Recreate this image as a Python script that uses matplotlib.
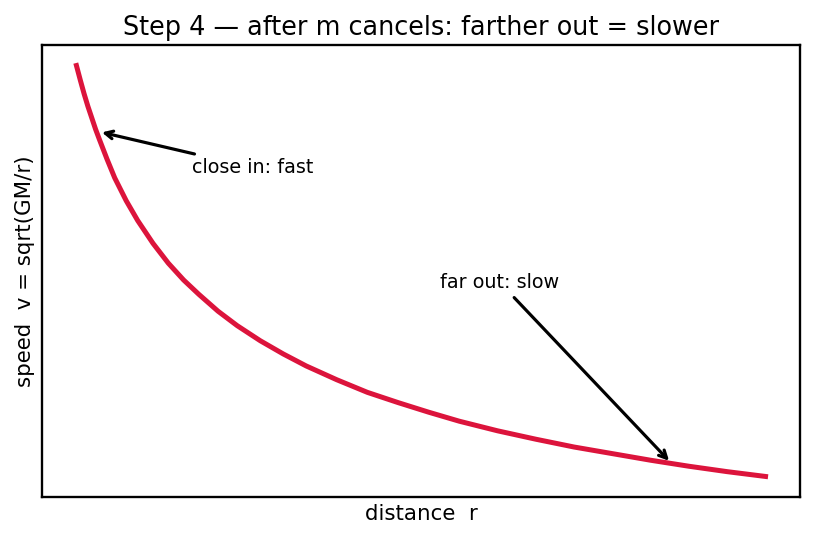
import matplotlib
matplotlib.use("Agg")
import matplotlib.pyplot as plt

# distance r (arbitrary units) and speed
r = [1.0, 1.05, 1.1, 1.15, 1.2, 1.25, 1.3, 1.4, 1.5, 1.65, 1.8, 2.0, 2.2, 2.4,
     2.6, 2.85, 3.1, 3.4, 3.7, 4.0, 4.4, 4.8, 5.2, 5.6, 6.0, 6.5, 7.0, 7.5,
     8.0, 8.5, 9.0, 9.5, 10.0]
v = [1.000, 0.976, 0.953, 0.932, 0.913, 0.894, 0.877, 0.844, 0.813, 0.775,
     0.742, 0.704, 0.671, 0.643, 0.619, 0.591, 0.567, 0.542, 0.520, 0.500,
     0.477, 0.456, 0.439, 0.423, 0.408, 0.392, 0.378, 0.365, 0.354, 0.343,
     0.333, 0.324, 0.316]

close_tip = (1.29, 0.890)
close_txt = (2.51, 0.821)
far_tip = (8.77, 0.338)
far_txt = (5.75, 0.630)

fig, ax = plt.subplots(figsize=(815/120, 540/120), dpi=120)
fig.subplots_adjust(left=0.0515, right=0.9816, bottom=0.0796, top=0.9167)

ax.plot(r, v, color="#DC143C", lw=3.0)

ax.annotate("close in: fast", xy=close_tip, xytext=close_txt, fontsize=11.5,
            arrowprops=dict(arrowstyle="->", color="black", lw=1.9))
ax.annotate("far out: slow", xy=far_tip, xytext=far_txt, fontsize=11.5,
            arrowprops=dict(arrowstyle="->", color="black", lw=1.9))

ax.set_xticks([])
ax.set_yticks([])
for s in ax.spines.values():
    s.set_linewidth(1.4)

ax.set_title("Step 4 \u2014 after m cancels: farther out = slower", fontsize=15.3)
ax.set_xlabel("distance  r", fontsize=12.8)
ax.set_ylabel("speed  v = sqrt(GM/r)", fontsize=12.8)

fig.savefig("out.png", dpi=120)
